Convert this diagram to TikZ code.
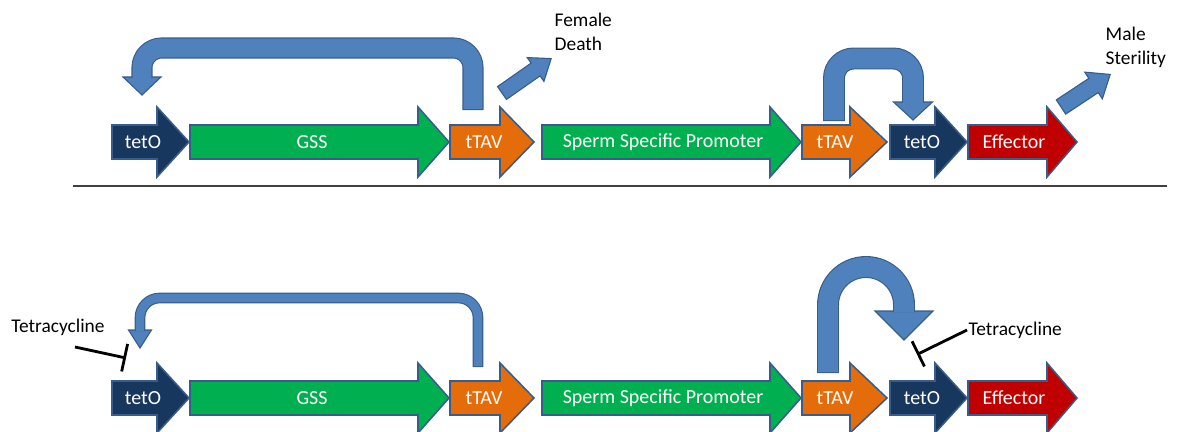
\documentclass[tikz,border=0pt]{standalone}
\usepackage{fontspec}
\setmainfont{Carlito}
\usetikzlibrary{arrows.meta,calc}

\definecolor{tetonavy}{HTML}{17375E}
\definecolor{gssgreen}{HTML}{00B050}
\definecolor{ttavorange}{HTML}{E46C0A}
\definecolor{effred}{HTML}{C00000}
\definecolor{geneedge}{HTML}{385D8A}
\definecolor{bluefill}{HTML}{4F81BD}
\definecolor{blueedge}{HTML}{385D8A}
\definecolor{divgray}{HTML}{404040}

\begin{document}
\begin{tikzpicture}[x=0.025cm, y=-0.025cm,
  gene/.style={draw=geneedge, line width=1.1pt, line join=miter},
  genelabel/.style={text=white, font=\fontsize{14.2}{16}\selectfont, inner sep=1pt},
  note/.style={font=\fontsize{13.8}{17}\selectfont, inner sep=1pt, align=left},
  pipe/.style={draw=bluefill, line width=#1,
    preaction={draw=blueedge, line width=#1+1.6pt, shorten <=-0.8pt}},
  bluehead/.style={fill=bluefill, draw=blueedge, line width=0.8pt, line join=miter},
  inhibit/.style={line width=2pt, -{Bar[width=20pt]}},
  divider/.style={draw=divgray, line width=1.4pt}]
  \useasboundingbox (0,0) rectangle (1181,432);

  % the two constructs, same genes in both rows
  \foreach \y/\r in {142/a, 398/b} {
    \foreach \n/\xs/\xh/\xt/\c/\xl/\txt in {
        teto1/112/157/189/tetonavy/143/tetO,
        gss/190/418/449/gssgreen/312/GSS,
        ttav1/450/500/534/ttavorange/484/tTAV,
        sperm/542/770/801/gssgreen/663/Sperm Specific Promoter,
        ttav2/802/850/887/ttavorange/835/tTAV,
        teto2/890/935/967/tetonavy/922/tetO,
        effector/968/1047/1077/effred/1014/Effector} {
      \filldraw[gene, fill=\c] (\xs,\y-17) -- (\xh,\y-17) -- (\xh,\y-35) -- (\xt,\y)
        -- (\xh,\y+35) -- (\xh,\y+17) -- (\xs,\y+17) -- cycle;
      \node[genelabel] (\n\r) at (\xl,\y) {\txt};
    }
  }

  \draw[divider] (73,186) -- (1167,186);

  % top row: feedback loops
  \coordinate (tipa) at ($(teto1a)+(-1,-47)$);
  \draw[bluehead] (tipa) -- ++(-19,-18) -- ++(38,0) -- cycle;
  \draw[pipe=13.4pt, rounded corners=14pt] ($(ttav1a)+(-11,-33)$) -- ++(0,-61) -| ($(tipa)+(0,-17)$);

  \coordinate (tipc) at ($(teto2a)+(-9,-22)$);
  \draw[bluehead] (tipc) -- ++(-19.5,-18) -- ++(39,0) -- cycle;
  \draw[pipe=14pt, rounded corners=14pt] ($(ttav2a)+(-1,-22)$) -- ++(0,-61.5) -| ($(tipc)+(0,-17)$);

  \node[note, anchor=west] (femdeath) at (553,31.5) {Female\\Death};
  \node[note, anchor=west] (malester) at (1104,47.5) {Male\\Sterility};

  \begin{scope}[shift={(502,93)}, rotate=35]
    \draw[bluehead] (0,-7.8) -- (41,-7.8) -- (41,-14.5) -- (60,0) -- (41,14.5) -- (41,7.8) -- (0,7.8) -- cycle;
  \end{scope}
  \begin{scope}[shift={(1061,107)}, rotate=33.5]
    \draw[bluehead] (0,-8.5) -- (39,-8.5) -- (39,-16) -- (59,0) -- (39,16) -- (39,8.5) -- (0,8.5) -- cycle;
  \end{scope}

  % bottom row: loops blocked by tetracycline
  \coordinate (tipb) at ($(teto1b)+(-3,-50)$);
  \draw[bluehead] (tipb) -- ++(-11.5,-18) -- ++(23,0) -- cycle;
  \draw[pipe=6pt, rounded corners=14pt] ($(ttav1b)+(-6,-32)$) -- ++(0,-68) -| ($(tipb)+(0,-17)$);

  \coordinate (tipd) at ($(teto2b)+(-18,-58)$);
  \draw[bluehead] (tipd) -- ++(-29,-29) -- ++(58,0) -- cycle;
  \draw[pipe=14pt] ($(ttav2b)+(-7,-26)$) -- ++(0,-67) arc (180:360:38) -- ($(tipd)+(0,-28)$);

  \node[note] (tetraA) at (58,327) {Tetracycline};
  \node[note, anchor=west] (tetraB) at (967,330) {Tetracycline};
  \coordinate (bara) at ($(teto1b)+(-17,-40)$);
  \coordinate (barb) at ($(teto2b)+(-5,-43.5)$);
  \draw[inhibit] ($(tetraA.south)+(17,10)$) -- (bara);
  \draw[inhibit] (tetraB.west) -- (barb);
\end{tikzpicture}
\end{document}
